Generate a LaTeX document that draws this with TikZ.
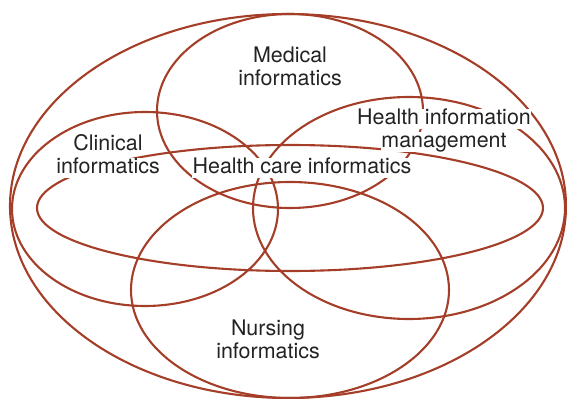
\documentclass[tikz,border=0pt]{standalone}
\usepackage{fontspec}
\setmainfont{TeX Gyre Heros}
\definecolor{ringred}{RGB}{165,62,40}
\definecolor{textgray}{RGB}{35,35,35}
\begin{document}
\begin{tikzpicture}[
        ring/.style={draw=ringred, line width=0.042cm},
        fieldtext/.style={fill=white, text=textgray, inner sep=0.2pt, text height=8.9pt, text depth=2.6pt, font=\fontsize{12.2}{13.4}\selectfont}
    ]
        \useasboundingbox (0,0) rectangle (11.340000,7.960000);
        
        % Outer ellipse
        \draw [ring] (5.760000,3.840000) ellipse [x radius=5.560000, y radius=3.840000];%
        
        % Medical informatics
        \draw [ring] (5.800000,5.740000) ellipse [x radius=2.660000, y radius=1.940000];%
        
        % Clinical informatics
        \draw [ring] (2.900000,3.780000) ellipse [x radius=2.660000, y radius=1.940000];%
        
        % Health information management
        \draw [ring] (8.180000,3.800000) ellipse [x radius=3.120000, y radius=2.220000];%
        
        % Health care informatics
        \draw [ring] (5.800000,3.800000) ellipse [x radius=5.060000, y radius=1.260000];%
        
        % Nursing informatics
        \draw [ring] (5.800000,2.160000) ellipse [x radius=3.180000, y radius=2.160000];%
        
        % Field names, one masked line each
        \node [fieldtext] (medicaltop) at (5.800000,6.830000) {Medical};%
        \node [fieldtext] (medicalbottom) at (5.800000,6.370000) {informatics};%
        \node [fieldtext] (clinicaltop) at (2.160000,5.060000) {Clinical};%
        \node [fieldtext] (clinicalbottom) at (2.160000,4.600000) {informatics};%
        \node [fieldtext] (healthcare) at (6.040000,4.600000) {Health care informatics};%
        \node [fieldtext] (himtop) at (8.880000,5.580000) {Health information};%
        \node [fieldtext] (himbottom) at (8.880000,5.120000) {management};%
        \node [fieldtext] (nursingtop) at (5.360000,1.360000) {Nursing};%
        \node [fieldtext] (nursingbottom) at (5.360000,0.900000) {informatics};%
    \end{tikzpicture}
\end{document}
